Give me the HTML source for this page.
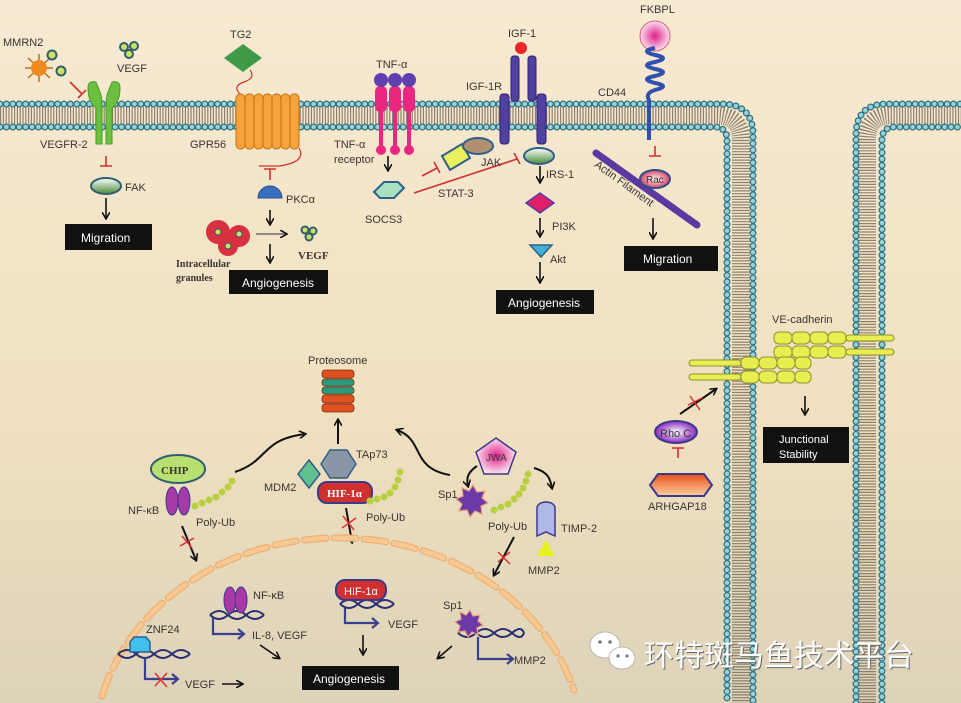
<!DOCTYPE html>
<html><head><meta charset="utf-8"><style>
html,body{margin:0;padding:0;width:961px;height:703px;overflow:hidden}
svg{display:block}
text{font-family:"Liberation Sans",sans-serif;fill:#3a3530}
.b{fill:#fff}
</style></head><body>
<svg width="961" height="703" viewBox="0 0 961 703" xmlns="http://www.w3.org/2000/svg">
<defs>
<linearGradient id="bg" x1="0" y1="0" x2="0" y2="1">
<stop offset="0" stop-color="#f7ead2"/><stop offset="0.6" stop-color="#f0e0c0"/><stop offset="1" stop-color="#ddd3b9"/>
</linearGradient>
<marker id="ar" markerWidth="8" markerHeight="8" refX="6" refY="4" orient="auto" markerUnits="userSpaceOnUse"><path d="M0,0 L7,4 L0,8" fill="none" stroke="#111" stroke-width="1.6"/></marker>
<linearGradient id="gfak" x1="0" y1="0" x2="0" y2="1"><stop offset="0" stop-color="#fff"/><stop offset="1" stop-color="#4a8c3a"/></linearGradient>
<linearGradient id="gor" x1="0" y1="0" x2="0" y2="1"><stop offset="0" stop-color="#e8501e"/><stop offset="1" stop-color="#fbd0a0"/></linearGradient>
<radialGradient id="gpk"><stop offset="0" stop-color="#e0208a"/><stop offset="1" stop-color="#fbe0f0"/></radialGradient>
<radialGradient id="grac"><stop offset="0" stop-color="#fff"/><stop offset="1" stop-color="#d84060"/></radialGradient>
<radialGradient id="grho"><stop offset="0" stop-color="#fff"/><stop offset="1" stop-color="#8a2ac0"/></radialGradient>
</defs>
<rect width="961" height="703" fill="url(#bg)"/>

<!-- membranes -->
<g fill="none">
<path d="M0,115.5 H716 Q741,115.5 741,140 V703" stroke="#6a6050" stroke-width="18" stroke-dasharray="1.2 1.6" opacity="0.75"/>
<path d="M867,703 V140 Q867,115.5 891,115.5 H961" stroke="#6a6050" stroke-width="18" stroke-dasharray="1.2 1.6" opacity="0.75"/>
<g stroke-linecap="round" stroke-dasharray="0 6.4">
<path d="M0,104 H722 Q753,104 753,135 V703" stroke="#2f6f7c" stroke-width="7"/>
<path d="M0,104 H722 Q753,104 753,135 V703" stroke="#95d2db" stroke-width="4.6"/>
<path d="M0,127 H714 Q727,127 727,140 V703" stroke="#2f6f7c" stroke-width="7"/>
<path d="M0,127 H714 Q727,127 727,140 V703" stroke="#95d2db" stroke-width="4.6"/>
<path d="M856,703 V135 Q856,104 887,104 H961" stroke="#2f6f7c" stroke-width="7"/>
<path d="M856,703 V135 Q856,104 887,104 H961" stroke="#95d2db" stroke-width="4.6"/>
<path d="M882,703 V140 Q882,127 895,127 H961" stroke="#2f6f7c" stroke-width="7"/>
<path d="M882,703 V140 Q882,127 895,127 H961" stroke="#95d2db" stroke-width="4.6"/>
</g></g>

<!-- MMRN2 / VEGFR-2 -->
<text x="3" y="46" font-size="11">MMRN2</text>
<g stroke="#b07020" stroke-width="1.5"><line x1="28" y1="58" x2="50" y2="78"/><line x1="50" y1="58" x2="28" y2="78"/><line x1="39" y1="54" x2="39" y2="82"/><line x1="25" y1="68" x2="53" y2="68"/></g>
<circle cx="39" cy="68" r="8" fill="#f08a20"/>
<circle cx="52" cy="55" r="4.5" fill="#d0e060" stroke="#2f5f6f" stroke-width="2"/>
<circle cx="61" cy="71" r="4.5" fill="#d0e060" stroke="#2f5f6f" stroke-width="2"/>
<circle cx="124" cy="47" r="4" fill="#d0e060" stroke="#2f5f6f" stroke-width="2"/><circle cx="134" cy="46" r="4" fill="#d0e060" stroke="#2f5f6f" stroke-width="2"/><circle cx="129" cy="54" r="4" fill="#d0e060" stroke="#2f5f6f" stroke-width="2"/>
<text x="117" y="72" font-size="11">VEGF</text>
<path d="M70,82 L82,94 M78,98 L86,90" stroke="#d03030" stroke-width="1.6"/>
<path d="M88,88 q0,-8 8,-6 l4,10 q2,6 2,12 v40 h-6 v-36 q-8,-6 -8,-20z M120,88 q0,-8 -8,-6 l-4,10 q-2,6 -2,12 v40 h6 v-36 q8,-6 8,-20z" fill="#6cc040" stroke="#4a9a2a"/>
<text x="40" y="148" font-size="11">VEGFR-2</text>
<path d="M106,156 V166 M100,166 H112" stroke="#d03030" stroke-width="1.6"/>
<ellipse cx="106" cy="186" rx="15" ry="8" fill="url(#gfak)" stroke="#2f5f6f" stroke-width="2"/>
<text x="125" y="191" font-size="11">FAK</text>
<line x1="106" y1="198" x2="106" y2="218" stroke="#111" stroke-width="1.6" marker-end="url(#ar)"/>
<rect x="65" y="224" width="87" height="26" fill="#111"/><text x="81" y="242" font-size="12" class="b">Migration</text>

<!-- TG2 / GPR56 -->
<text x="230" y="38" font-size="11">TG2</text>
<path d="M243,44 L262,58 L243,72 L224,58z" fill="#3f9a48"/>
<path d="M250,70 q6,8 -6,12 q-12,4 -4,12 q6,6 0,10" fill="none" stroke="#d03030" stroke-width="1.2"/>
<g fill="#f5a33a" stroke="#c07010"><rect x="236" y="94" width="9" height="55" rx="4"/><rect x="245" y="94" width="9" height="55" rx="4"/><rect x="254" y="94" width="9" height="55" rx="4"/><rect x="263" y="94" width="9" height="55" rx="4"/><rect x="272" y="94" width="9" height="55" rx="4"/><rect x="281" y="94" width="9" height="55" rx="4"/><rect x="290" y="94" width="9" height="55" rx="4"/></g>
<path d="M299,148 q8,14 -20,18 h-20" fill="none" stroke="#d03030" stroke-width="1.2"/>
<text x="190" y="148" font-size="11">GPR56</text>
<path d="M270,169 V180 M264,169 H276" stroke="#d03030" stroke-width="1.6"/>
<path d="M258,198 a12,12 0 0 1 24,0z" fill="#3a70c0" stroke="#2a4f8a"/>
<text x="286" y="203" font-size="11">PKCα</text>
<line x1="270" y1="210" x2="270" y2="224" stroke="#111" stroke-width="1.6" marker-end="url(#ar)"/>
<line x1="256" y1="234" x2="286" y2="234" stroke="#555" stroke-width="1.2" marker-end="url(#ar)"/>
<line x1="270" y1="244" x2="270" y2="262" stroke="#111" stroke-width="1.6" marker-end="url(#ar)"/>
<circle cx="218" cy="232" r="12" fill="#d83040"/><circle cx="239" cy="236" r="11" fill="#d83040"/><circle cx="228" cy="246" r="10" fill="#d83040"/>
<circle cx="218" cy="232" r="3" fill="#d0e060" stroke="#2f5f6f"/><circle cx="239" cy="234" r="3" fill="#d0e060" stroke="#2f5f6f"/><circle cx="228" cy="246" r="3" fill="#d0e060" stroke="#2f5f6f"/>
<circle cx="305" cy="230" r="3.5" fill="#d0e060" stroke="#2f5f6f" stroke-width="2"/><circle cx="313" cy="231" r="3.5" fill="#d0e060" stroke="#2f5f6f" stroke-width="2"/><circle cx="309" cy="237" r="3.5" fill="#d0e060" stroke="#2f5f6f" stroke-width="2"/>
<text x="298" y="259" font-size="11" font-weight="bold" style="font-family:'Liberation Serif',serif">VEGF</text>
<text x="176" y="267" font-size="10" font-weight="bold" style="font-family:'Liberation Serif',serif">Intracellular</text>
<text x="176" y="281" font-size="10" font-weight="bold" style="font-family:'Liberation Serif',serif">granules</text>
<rect x="229" y="270" width="99" height="24" fill="#111"/><text x="242" y="287" font-size="12" class="b">Angiogenesis</text>

<!-- TNF -->
<text x="376" y="68" font-size="11">TNF-α</text>
<g fill="#e82880"><rect x="375" y="86" width="12" height="26" rx="5"/><rect x="389" y="86" width="12" height="26" rx="5"/><rect x="403" y="86" width="12" height="26" rx="5"/>
<rect x="379" y="110" width="4" height="40"/><rect x="393" y="110" width="4" height="40"/><rect x="407" y="110" width="4" height="40"/>
<circle cx="381" cy="150" r="5"/><circle cx="395" cy="150" r="5"/><circle cx="409" cy="150" r="5"/></g>
<g fill="#6040b0"><circle cx="381" cy="80" r="7"/><circle cx="395" cy="80" r="7"/><circle cx="409" cy="80" r="7"/></g>
<text x="334" y="148" font-size="11">TNF-α</text><text x="334" y="163" font-size="11">receptor</text>
<line x1="388" y1="156" x2="388" y2="170" stroke="#111" stroke-width="1.6" marker-end="url(#ar)"/>
<path d="M374,192 l10,-10 h14 l6,6 l-10,10 h-14z" fill="#a8e0c0" stroke="#2f5f8a" stroke-width="2"/>
<text x="365" y="223" font-size="11">SOCS3</text>
<path d="M422,176 L437,168 M434,162 L440,173" stroke="#d03030" stroke-width="1.6"/>
<path d="M414,193 L517,159 M514,153 L520,164" stroke="#d03030" stroke-width="1.6"/>
<text x="438" y="197" font-size="11">STAT-3</text>
<path d="M442,156 l20,-12 l8,14 l-20,12z" fill="#e8f060" stroke="#2f5f8a" stroke-width="2"/>
<ellipse cx="478" cy="146" rx="15" ry="8" fill="#b09070" stroke="#2f5f8a" stroke-width="2"/>
<text x="481" y="166" font-size="11">JAK</text>

<!-- IGF -->
<text x="508" y="37" font-size="11">IGF-1</text>
<circle cx="521" cy="48" r="6" fill="#e82828"/>
<g fill="#5040a0" stroke="#302070"><rect x="511" y="56" width="8" height="45" rx="3"/><rect x="528" y="56" width="8" height="45" rx="3"/><rect x="500" y="94" width="9" height="50" rx="3"/><rect x="537" y="94" width="9" height="50" rx="3"/></g>
<text x="466" y="90" font-size="11">IGF-1R</text>
<ellipse cx="539" cy="156" rx="15" ry="8" fill="url(#gfak)" stroke="#2f5f8a" stroke-width="2"/>
<line x1="540" y1="166" x2="540" y2="182" stroke="#111" stroke-width="1.6" marker-end="url(#ar)"/>
<text x="546" y="178" font-size="11">IRS-1</text>
<path d="M540,193 l14,10 l-14,10 l-14,-10z" fill="#e0206a" stroke="#5040a0" stroke-width="1.5"/>
<text x="552" y="230" font-size="11">PI3K</text>
<line x1="540" y1="218" x2="540" y2="236" stroke="#111" stroke-width="1.6" marker-end="url(#ar)"/>
<path d="M530,245 h22 l-11,12z" fill="#40b0d0" stroke="#2f5f8a" stroke-width="1.5"/>
<text x="550" y="263" font-size="11">Akt</text>
<line x1="540" y1="262" x2="540" y2="282" stroke="#111" stroke-width="1.6" marker-end="url(#ar)"/>
<rect x="496" y="290" width="98" height="24" fill="#111"/><text x="508" y="307" font-size="12" class="b">Angiogenesis</text>

<!-- FKBPL / CD44 -->
<text x="640" y="13" font-size="11">FKBPL</text>
<circle cx="655" cy="36" r="15" fill="url(#gpk)" stroke="#e06070"/>
<path d="M655,48 q-16,3 0,7 q16,3 0,7 q-16,3 0,7 q16,3 0,7 q-16,3 0,7 q16,3 0,7 q-10,3 -6,10 v40" fill="none" stroke="#3050b0" stroke-width="4"/>
<text x="598" y="96" font-size="11">CD44</text>
<path d="M655,146 V156 M649,156 H661" stroke="#d03030" stroke-width="1.6"/>
<path d="M596,153 L697,225" stroke="#5a3aa0" stroke-width="7" stroke-dasharray="3 1" stroke-linecap="round"/>
<ellipse cx="655" cy="179" rx="15" ry="9" fill="url(#grac)" stroke="#2f4f8a" stroke-width="2"/>
<text x="646" y="183" font-size="10">Rac</text>
<text x="0" y="0" font-size="11" transform="translate(594,166) rotate(36)">Actin Filament</text>
<line x1="653" y1="218" x2="653" y2="238" stroke="#111" stroke-width="1.6" marker-end="url(#ar)"/>
<rect x="624" y="246" width="94" height="25" fill="#111"/><text x="643" y="263" font-size="12" class="b">Migration</text>

<!-- VE-cadherin -->
<text x="772" y="323" font-size="11">VE-cadherin</text>
<g fill="#e8ee50" stroke="#909030" stroke-width="1">
<rect x="774" y="332" width="18" height="12" rx="5"/><rect x="792" y="332" width="18" height="12" rx="5"/><rect x="810" y="332" width="18" height="12" rx="5"/><rect x="828" y="332" width="18" height="12" rx="5"/><rect x="846" y="335" width="48" height="6" rx="3"/>
<rect x="774" y="346" width="18" height="12" rx="5"/><rect x="792" y="346" width="18" height="12" rx="5"/><rect x="810" y="346" width="18" height="12" rx="5"/><rect x="828" y="346" width="18" height="12" rx="5"/><rect x="846" y="349" width="48" height="6" rx="3"/>
<rect x="689" y="360" width="52" height="6" rx="3"/><rect x="741" y="357" width="18" height="12" rx="5"/><rect x="759" y="357" width="18" height="12" rx="5"/><rect x="777" y="357" width="18" height="12" rx="5"/><rect x="795" y="357" width="16" height="12" rx="5"/>
<rect x="689" y="374" width="52" height="6" rx="3"/><rect x="741" y="371" width="18" height="12" rx="5"/><rect x="759" y="371" width="18" height="12" rx="5"/><rect x="777" y="371" width="18" height="12" rx="5"/><rect x="795" y="371" width="16" height="12" rx="5"/>
</g>
<line x1="680" y1="414" x2="716" y2="389" stroke="#111" stroke-width="2" marker-end="url(#ar)"/>
<path d="M690,396 L700,410 M688,405 L702,398" stroke="#e03030" stroke-width="1.5"/>
<line x1="805" y1="396" x2="805" y2="414" stroke="#111" stroke-width="1.6" marker-end="url(#ar)"/>
<rect x="763" y="427" width="86" height="36" fill="#111"/><text x="779" y="443" font-size="11" class="b">Junctional</text><text x="779" y="458" font-size="11" class="b">Stability</text>
<ellipse cx="676" cy="432" rx="21" ry="11" fill="url(#grho)" stroke="#3a3a8a" stroke-width="2"/>
<text x="660" y="437" font-size="11">Rho C</text>
<path d="M678,448 V458 M672,448 H684" stroke="#d03030" stroke-width="1.6"/>
<path d="M658,474 h46 l8,11 l-8,11 h-46 l-8,-11z" fill="url(#gor)" stroke="#3a3a8a" stroke-width="2"/>
<text x="648" y="510" font-size="11">ARHGAP18</text>

<!-- Proteosome -->
<text x="308" y="364" font-size="11">Proteosome</text>
<g stroke="#7a2a10" stroke-width="0.8"><rect x="322" y="370" width="32" height="8" rx="3" fill="#e05020"/><rect x="322" y="379" width="32" height="7" rx="3" fill="#2a9a7a"/><rect x="322" y="387" width="32" height="7" rx="3" fill="#2a9a7a"/><rect x="322" y="395" width="32" height="8" rx="3" fill="#e05020"/><rect x="322" y="404" width="32" height="8" rx="3" fill="#e05020"/></g>
<line x1="338" y1="444" x2="338" y2="420" stroke="#111" stroke-width="2" marker-end="url(#ar)"/>
<path d="M235,472 C270,460 260,440 305,434" fill="none" stroke="#111" stroke-width="2" marker-end="url(#ar)"/>
<path d="M450,475 C410,468 425,440 397,430" fill="none" stroke="#111" stroke-width="2" marker-end="url(#ar)"/>

<!-- CHIP NF-kB -->
<ellipse cx="178" cy="469" rx="27" ry="14" fill="#b8e070" stroke="#2f5f6f" stroke-width="2"/>
<text x="161" y="474" font-size="11" font-weight="bold" style="font-family:'Liberation Serif',serif">CHIP</text>
<ellipse cx="172" cy="501" rx="6" ry="14" fill="#a83aa8" stroke="#3a3a8a"/><ellipse cx="184" cy="501" rx="6" ry="14" fill="#a83aa8" stroke="#3a3a8a"/>
<text x="128" y="514" font-size="11">NF-κB</text>
<g fill="#b8d040"><circle cx="195" cy="506" r="3.5"/><circle cx="202" cy="503" r="3.5"/><circle cx="209" cy="500" r="3.5"/><circle cx="216" cy="497" r="3.5"/><circle cx="222" cy="492" r="3.5"/><circle cx="228" cy="487" r="3.5"/><circle cx="232" cy="481" r="3.5"/></g>
<text x="196" y="526" font-size="11">Poly-Ub</text>
<line x1="182" y1="526" x2="196" y2="560" stroke="#111" stroke-width="2" marker-end="url(#ar)"/>
<path d="M182,536 L192,548 M180,546 L194,538" stroke="#e03030" stroke-width="1.5"/>

<!-- MDM2 TAp73 HIF -->
<path d="M309,460 l11,14 l-11,14 l-11,-14z" fill="#60c090" stroke="#2f5f8a" stroke-width="1.5"/>
<path d="M330,450 h17 l9,14 l-9,14 h-17 l-9,-14z" fill="#8a96a8" stroke="#2f5f8a" stroke-width="1.5"/>
<text x="264" y="491" font-size="11">MDM2</text>
<text x="356" y="458" font-size="11">TAp73</text>
<rect x="318" y="482" width="54" height="21" rx="9" fill="#d03030" stroke="#3a3a8a" stroke-width="2"/>
<text x="327" y="497" font-size="11" font-weight="bold" style="font-family:'Liberation Serif',serif;fill:#fff">HIF-1α</text>
<g fill="#b8d040"><circle cx="370" cy="501" r="3.5"/><circle cx="377" cy="499" r="3.5"/><circle cx="384" cy="497" r="3.5"/><circle cx="390" cy="493" r="3.5"/><circle cx="395" cy="487" r="3.5"/><circle cx="398" cy="480" r="3.5"/><circle cx="400" cy="472" r="3.5"/></g>
<text x="366" y="521" font-size="11">Poly-Ub</text>
<line x1="346" y1="508" x2="352" y2="542" stroke="#111" stroke-width="2" marker-end="url(#ar)"/>
<path d="M343,516 L354,530 M342,528 L356,518" stroke="#e03030" stroke-width="1.5"/>

<!-- JWA Sp1 -->
<path d="M496,438 l20,14 l-8,22 h-24 l-8,-22z" fill="url(#gpk)" stroke="#3a3a8a" stroke-width="1.5"/>
<text x="486" y="461" font-size="10">JWA</text>
<path d="M477,466 C468,472 466,478 468,486" fill="none" stroke="#111" stroke-width="2" marker-end="url(#ar)"/>
<path d="M534,468 C548,472 550,478 552,488" fill="none" stroke="#111" stroke-width="2" marker-end="url(#ar)"/>
<path d="M473,485 l4,7 8,-1 -3,7 6,5 -7,3 1,8 -7,-3 -5,6 -3,-7 -8,1 3,-7 -6,-5 7,-3 -1,-8 7,3z" fill="#6a3aa8" stroke="#f0a080" stroke-width="1.2"/>
<text x="438" y="498" font-size="11">Sp1</text>
<g fill="#b8d040"><circle cx="494" cy="510" r="3.5"/><circle cx="501" cy="507" r="3.5"/><circle cx="508" cy="504" r="3.5"/><circle cx="514" cy="499" r="3.5"/><circle cx="519" cy="494" r="3.5"/><circle cx="523" cy="488" r="3.5"/><circle cx="526" cy="481" r="3.5"/><circle cx="528" cy="474" r="3.5"/></g>
<text x="488" y="530" font-size="11">Poly-Ub</text>
<path d="M537,508 a9,6 0 0 1 18,0 v28 l-9,-4 l-9,4z" fill="#b0b8e8" stroke="#3a3a8a" stroke-width="1.5"/>
<text x="561" y="532" font-size="11">TIMP-2</text>
<path d="M546,540 l9,16 h-18z" fill="#e8f020"/>
<text x="528" y="574" font-size="11">MMP2</text>
<line x1="514" y1="537" x2="494" y2="575" stroke="#111" stroke-width="2" marker-end="url(#ar)"/>
<path d="M498,552 L510,564 M498,562 L510,552" stroke="#e03030" stroke-width="1.5"/>

<!-- nucleus -->
<path d="M102,696 A245,212 0 0 1 574,690" fill="none" stroke="#f0b070" stroke-width="7" stroke-dasharray="22 8" stroke-linecap="round"/>
<path d="M102,696 A245,212 0 0 1 574,690" fill="none" stroke="#f6c894" stroke-width="4.5" stroke-dasharray="22 8" stroke-linecap="round"/>

<!-- nucleus contents -->
<g fill="none" stroke="#2a3070" stroke-width="2">
<path d="M210,615 q9,-8 18,0 t18,0 t18,0"/><path d="M210,615 q9,8 18,0 t18,0 t18,0"/>
<path d="M118,654 q9,-8 18,0 t18,0 t18,0 t18,0"/><path d="M118,654 q9,8 18,0 t18,0 t18,0 t18,0"/>
<path d="M340,604 q9,-8 18,0 t18,0 t18,0"/><path d="M340,604 q9,8 18,0 t18,0 t18,0"/>
<path d="M458,633 q9,-8 18,0 t18,0 t18,0 t12,0"/><path d="M458,633 q9,8 18,0 t18,0 t18,0 t12,0"/>
</g>
<g fill="none" stroke="#3a4090" stroke-width="2.2">
<path d="M213,618 v16 h30"/><path d="M238,629 l6,5 l-6,5"/>
<path d="M145,657 v22 h32"/><path d="M172,674 l6,5 l-6,5"/>
<path d="M345,608 v15 h32"/><path d="M372,618 l6,5 l-6,5"/>
<path d="M478,637 v22 h34"/><path d="M507,654 l6,5 l-6,5"/>
</g>
<ellipse cx="230" cy="600" rx="6" ry="13" fill="#a83aa8" stroke="#3a3a8a"/><ellipse cx="241" cy="600" rx="6" ry="13" fill="#a83aa8" stroke="#3a3a8a"/>
<text x="253" y="599" font-size="11">NF-κB</text>
<text x="252" y="639" font-size="11">IL-8, VEGF</text>
<text x="146" y="633" font-size="11">ZNF24</text>
<path d="M134,637 h12 l4,5 v10 h-20 v-10z" fill="#40c0f0" stroke="#2f5f8a" stroke-width="1.5"/>
<path d="M155,673 L167,687 M155,686 L167,673" stroke="#e03030" stroke-width="1.5"/>
<text x="185" y="688" font-size="11">VEGF</text>
<line x1="222" y1="684" x2="242" y2="684" stroke="#111" stroke-width="1.6" marker-end="url(#ar)"/>
<rect x="336" y="580" width="50" height="20" rx="9" fill="#d03030" stroke="#3a3a8a" stroke-width="2"/>
<text x="344" y="595" font-size="11" style="fill:#fff">HIF-1α</text>
<text x="388" y="628" font-size="11">VEGF</text>
<line x1="363" y1="635" x2="363" y2="654" stroke="#111" stroke-width="1.6" marker-end="url(#ar)"/>
<line x1="260" y1="645" x2="279" y2="658" stroke="#111" stroke-width="1.6" marker-end="url(#ar)"/>
<path d="M470,610 l3,6 7,-1 -2,6 5,4 -6,3 1,7 -6,-3 -4,5 -3,-6 -7,1 2,-6 -5,-4 6,-3 -1,-7 6,3z" fill="#6a3aa8" stroke="#f0a080" stroke-width="1.2"/>
<text x="443" y="609" font-size="11">Sp1</text>
<text x="514" y="664" font-size="11">MMP2</text>
<line x1="452" y1="646" x2="438" y2="658" stroke="#111" stroke-width="1.6" marker-end="url(#ar)"/>
<rect x="302" y="666" width="97" height="24" fill="#111"/><text x="313" y="683" font-size="12" class="b">Angiogenesis</text>

<!-- watermark -->
<g>
<ellipse cx="605" cy="645" rx="15" ry="13" fill="#fff" stroke="#aaa" stroke-width="0.8"/>
<ellipse cx="622" cy="658" rx="13" ry="11" fill="#fff" stroke="#aaa" stroke-width="0.8"/>
<circle cx="600" cy="642" r="1.8" fill="#777"/><circle cx="610" cy="642" r="1.8" fill="#777"/><circle cx="618" cy="656" r="1.6" fill="#777"/><circle cx="627" cy="656" r="1.6" fill="#777"/>
<text x="644" y="666" font-size="30" style="font-family:'Liberation Sans','Noto Sans CJK SC',sans-serif;fill:#666" dx="1" dy="1">环特斑马鱼技术平台</text>
<text x="644" y="666" font-size="30" style="font-family:'Liberation Sans','Noto Sans CJK SC',sans-serif;fill:#fff">环特斑马鱼技术平台</text>
</g>
</svg>
</body></html>
